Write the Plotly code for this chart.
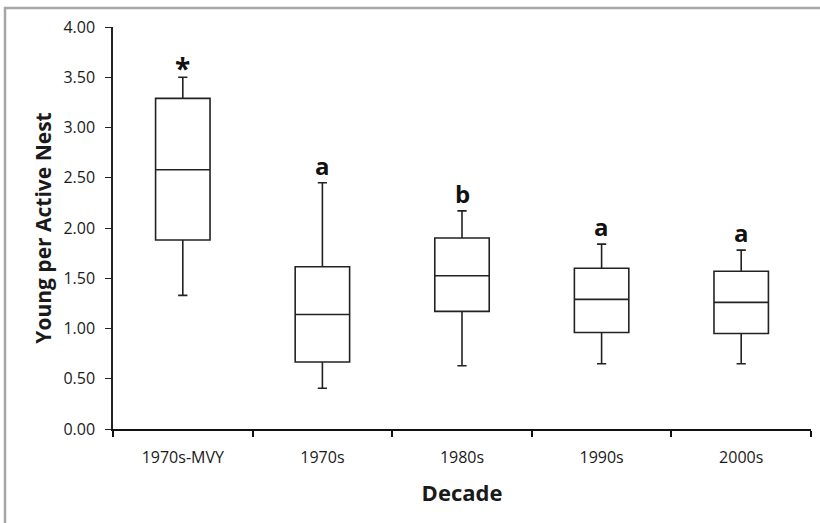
import plotly.graph_objects as go

categories = ["1970s-MVY", "1970s", "1980s", "1990s", "2000s"]
lower = [1.33, 0.405, 0.63, 0.65, 0.65]
q1 = [1.88, 0.667, 1.17, 0.96, 0.95]
median = [2.58, 1.14, 1.525, 1.29, 1.26]
q3 = [3.29, 1.615, 1.90, 1.60, 1.57]
upper = [3.50, 2.45, 2.17, 1.84, 1.78]
labels = ["*", "a", "b", "a", "a"]
yticks = [0, 0.5, 1, 1.5, 2, 2.5, 3, 3.5, 4]

font = "'Open Sans', sans-serif"

fig = go.Figure()
fig.add_trace(go.Box(
    x=categories, q1=q1, median=median, q3=q3,
    lowerfence=lower, upperfence=upper,
    fillcolor="white",
    line=dict(color="#222222", width=1.6),
    whiskerwidth=0.17,
    width=0.39,
    boxpoints=False,
    showlegend=False,
    hoverinfo="skip",
))

for c, u, t in zip(categories, upper, labels):
    fig.add_annotation(
        x=c, y=u, text="<b>%s</b>" % t, showarrow=False,
        yanchor="bottom", yshift=-1 if t != "*" else -12,
        font=dict(family=font, size=24 if t != "*" else 28, color="#111111"),
    )

fig.add_shape(
    type="rect", xref="paper", yref="paper",
    x0=(5 - 113) / 698, x1=(830 - 113) / 698,
    y0=(429 - 540) / 402, y1=(429 - 8) / 402,
    line=dict(color="#a6a6a6", width=2.5), fillcolor="rgba(0,0,0,0)",
    layer="below",
)

fig.update_layout(
    width=820, height=523,
    margin=dict(l=113, r=9, t=27, b=94),
    paper_bgcolor="white", plot_bgcolor="white",
    font=dict(family=font, size=16, color="#1a1a1a"),
    xaxis=dict(
        type="category", categoryorder="array", categoryarray=categories,
        range=[-0.5, 4.5],
        showline=True, linecolor="#111111", linewidth=2.2,
        ticks="outside", tickson="boundaries", ticklen=6, tickcolor="#111111", tickwidth=1.5,
        showgrid=False, zeroline=False,
        tickfont=dict(family=font, size=16),
        ticklabelstandoff=13,
        title=dict(text="<b>Decade</b>", font=dict(family=font, size=22), standoff=18),
    ),
    yaxis=dict(
        range=[0, 4], tickvals=yticks, tickformat=".2f",
        showline=True, linecolor="#222222", linewidth=1.5,
        ticks="outside", ticklen=6, tickcolor="#222222", tickwidth=1.2,
        showgrid=False, zeroline=False,
        tickfont=dict(family=font, size=16),
        ticklabelstandoff=7,
        title=dict(text="<b>Young per Active Nest</b>", font=dict(family=font, size=21), standoff=6),
    ),
)

fig.write_html("out.html")
